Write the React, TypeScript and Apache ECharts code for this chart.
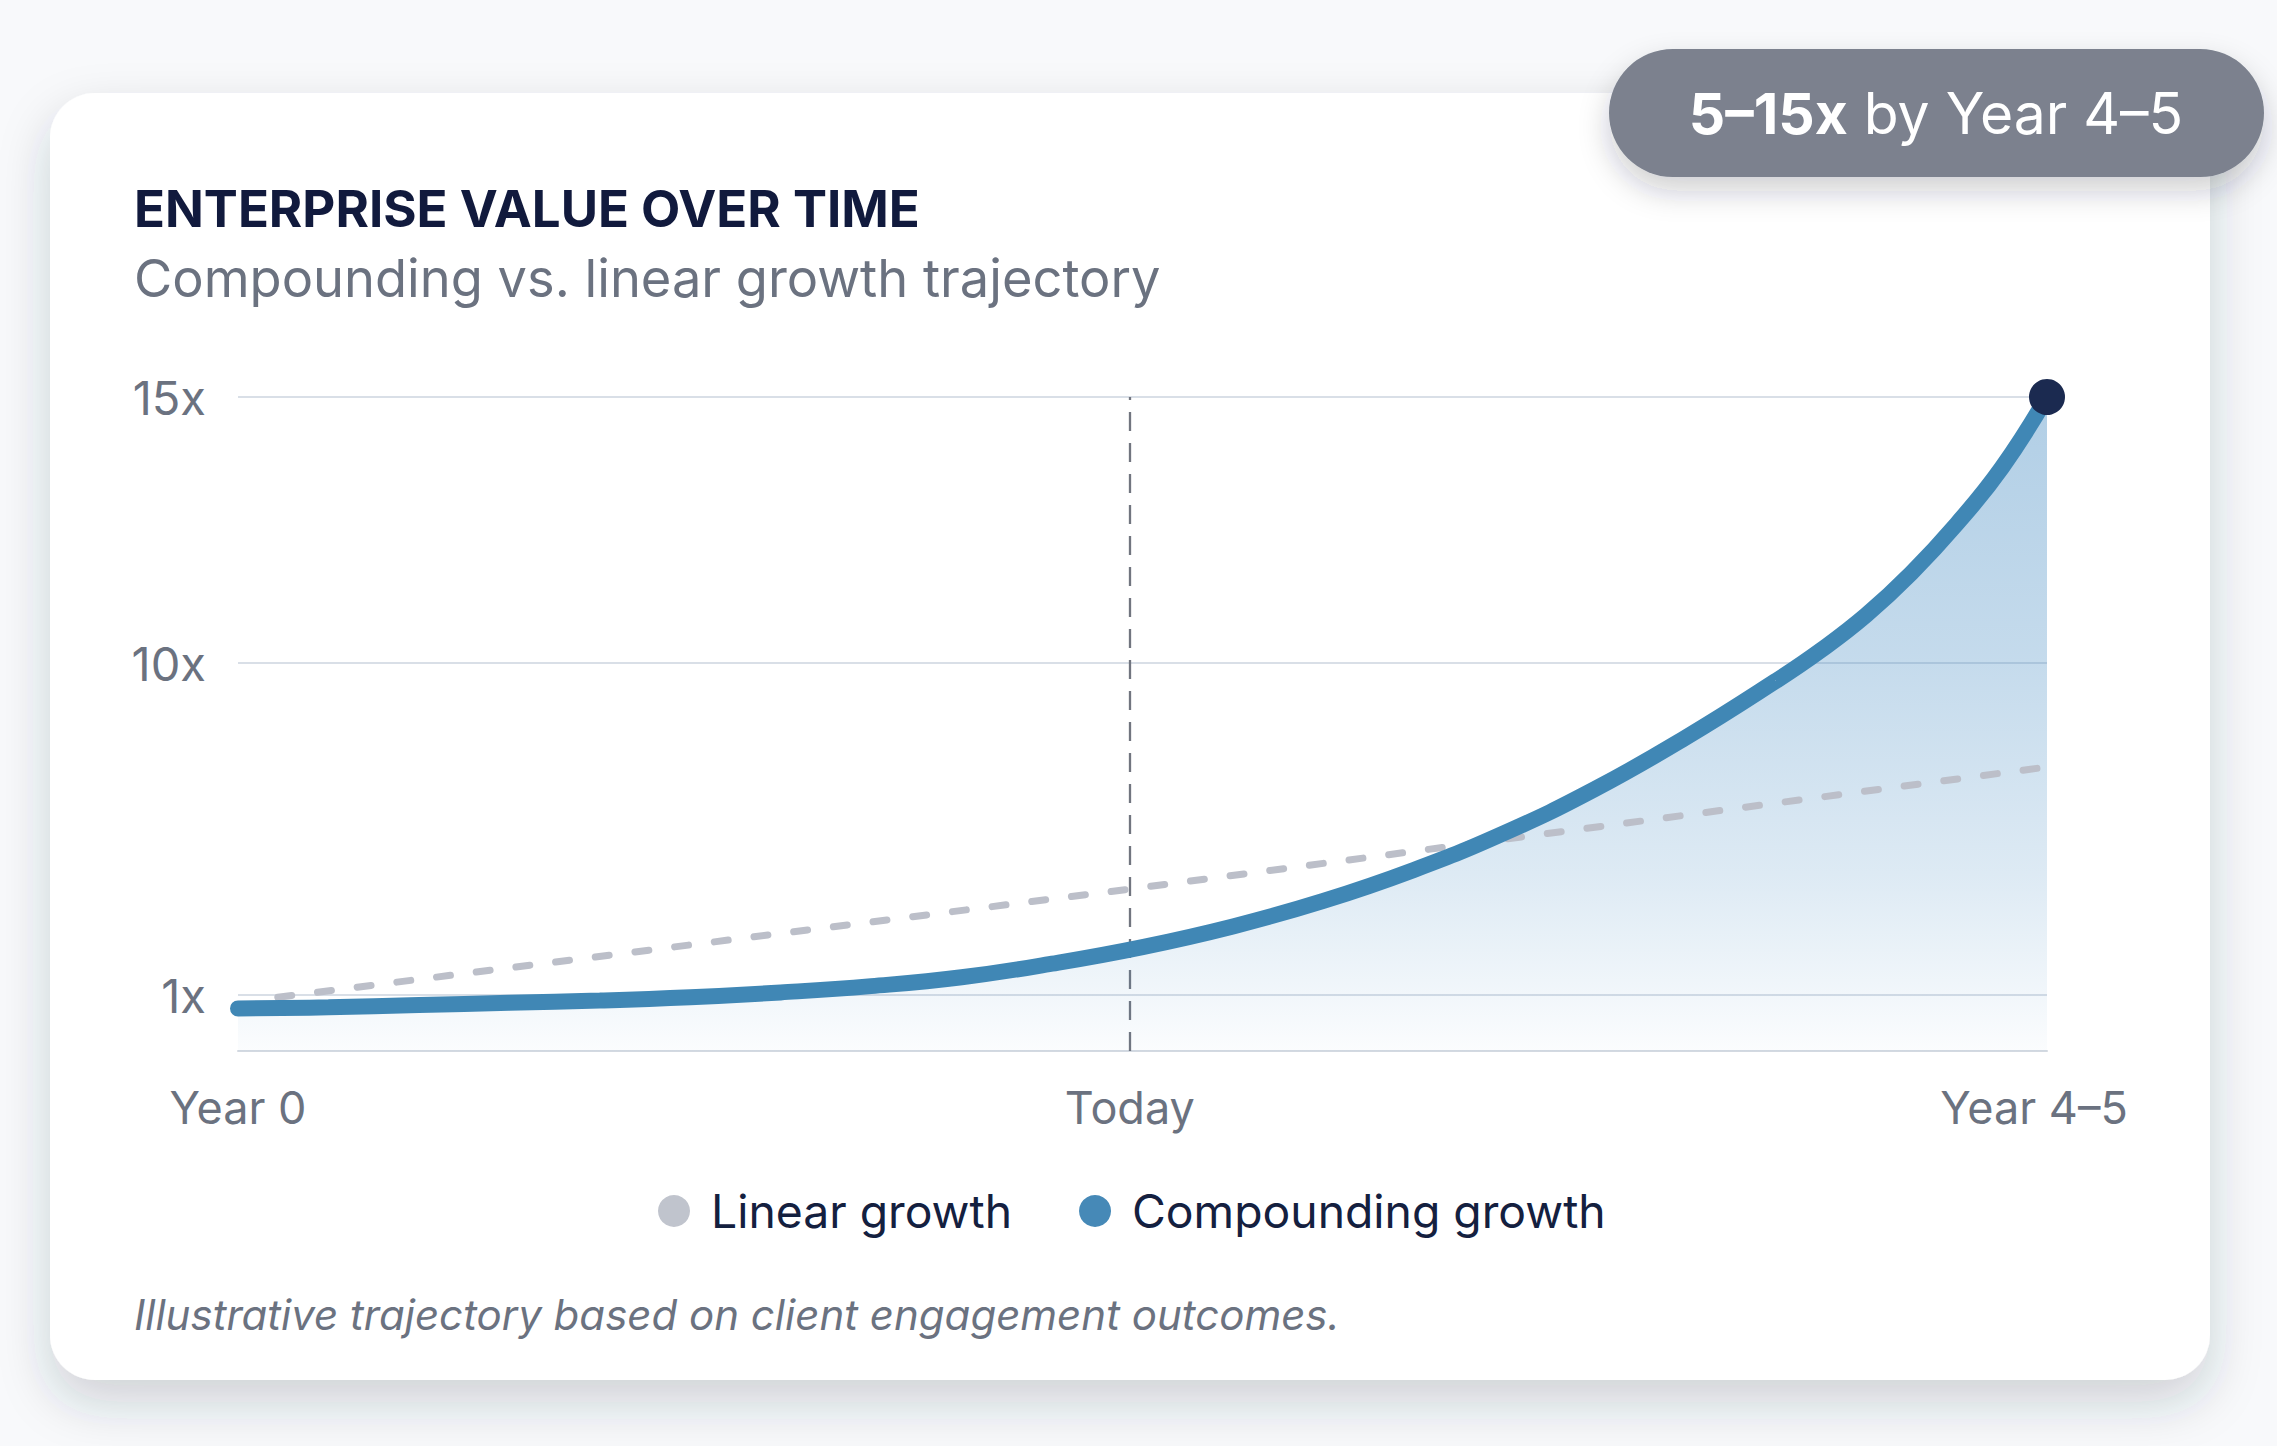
import React, { useEffect, useRef } from "react";
import * as echarts from "echarts";

// ---- data ----
const X_TICKS = [0, 4.93, 10];
const X_TICK_LABELS = ["Year 0", "Today", "Year 4–5"];
const Y_TICKS = [1, 10, 15];
const Y_TICK_LABELS = ["1x", "10x", "15x"];

// illustrative (non-linear) value scale: value breakpoints and their relative axis positions
const SCALE_VALUES = [0, 1, 10, 15];
const SCALE_POS = [0, 56, 388, 654];

const COMP_X = [0, 0.5, 1, 1.5, 2, 2.5, 3, 3.5, 4, 4.5, 5, 5.5, 6, 6.5, 7, 7.5, 8, 8.5, 8.75, 9, 9.25, 9.5, 9.75, 10];
const COMP_V = [
  0.76, 0.78, 0.82, 0.86, 0.9, 0.96, 1.07, 1.24, 1.48, 1.85, 2.3,
  2.86, 3.55, 4.39, 5.39, 6.58, 7.97, 9.51, 10.24, 10.9, 11.69, 12.61, 13.67, 15,
];

const LIN_X = [0.22, 4.93, 10];
const LIN_V = [0.96, 3.87, 7.18];

const TODAY_X = 4.93;

const FONT = "Inter, 'Noto Sans', sans-serif";

function toPos(v: number): number {
  for (let i = 1; i < SCALE_VALUES.length; i++) {
    if (v <= SCALE_VALUES[i] || i === SCALE_VALUES.length - 1) {
      const v0 = SCALE_VALUES[i - 1];
      const v1 = SCALE_VALUES[i];
      const p0 = SCALE_POS[i - 1];
      const p1 = SCALE_POS[i];
      return p0 + ((v - v0) / (v1 - v0)) * (p1 - p0);
    }
  }
  return 0;
}

export default function App() {
  const ref = useRef<HTMLDivElement>(null);

  useEffect(() => {
    if (!ref.current) return;
    const chart = echarts.init(ref.current, undefined, { renderer: "svg" });

    const compData = COMP_X.map((x, i) => [x, toPos(COMP_V[i])]);
    const linData = LIN_X.map((x, i) => [x, toPos(LIN_V[i])]);
    const endPoint = [[COMP_X[COMP_X.length - 1], toPos(COMP_V[COMP_V.length - 1])]];
    const yTickPos = Y_TICKS.map(toPos);

    const option: any = {
      animation: false,
      backgroundColor: "#f8f9fb",
      grid: { left: 238, right: 230, top: 397, bottom: 395, containLabel: false },
      xAxis: {
        type: "value",
        min: 0,
        max: 10,
        axisLine: { show: true, lineStyle: { color: "#d3d9e1", width: 2 } },
        axisTick: { show: false },
        splitLine: { show: false },
        axisLabel: {
          customValues: X_TICKS,
          margin: 34,
          color: "#6b7280",
          fontSize: 45,
          fontFamily: FONT,
          rich: {
            last: { fontSize: 45, fontFamily: FONT, color: "#6b7280", padding: [0, 26, 0, 0] },
          },
          formatter: (val: number) => {
            const i = X_TICKS.findIndex((t) => Math.abs(t - val) < 1e-6);
            if (i < 0) return "";
            return i === X_TICKS.length - 1 ? `{last|${X_TICK_LABELS[i]}}` : X_TICK_LABELS[i];
          },
        },
      },
      yAxis: {
        type: "value",
        min: 0,
        max: SCALE_POS[SCALE_POS.length - 1],
        axisLine: { show: false },
        axisTick: { show: false, customValues: yTickPos },
        splitLine: { show: false },
        axisLabel: {
          customValues: yTickPos,
          margin: 32,
          color: "#6b7280",
          fontSize: 47,
          fontFamily: FONT,
          formatter: (val: number) => {
            const i = yTickPos.findIndex((t) => Math.abs(t - val) < 1e-6);
            return i >= 0 ? Y_TICK_LABELS[i] : "";
          },
        },
      },
      legend: {
        left: 653,
        top: 1183,
        icon: "circle",
        itemWidth: 32,
        itemHeight: 32,
        itemGap: 67,
        textStyle: { fontSize: 46.3, color: "#14203f", fontFamily: FONT, padding: [0, 0, 0, 16] },
        data: [
          { name: "Linear growth", itemStyle: { color: "#c0c4cd" } },
          { name: "Compounding growth", itemStyle: { color: "#4689b7" } },
        ],
      },
      series: [
        {
          name: "area",
          type: "line",
          z: 2,
          data: compData,
          smooth: 0.45,
          showSymbol: false,
          lineStyle: { width: 0 },
          areaStyle: {
            origin: "start",
            color: new echarts.graphic.LinearGradient(0, 0, 0, 1, [
              { offset: 0, color: "rgba(70,140,195,0.6)" },
              { offset: 0.4, color: "rgba(70,140,195,0.45)" },
              { offset: 0.73, color: "rgba(70,140,195,0.26)" },
              { offset: 0.92, color: "rgba(70,140,195,0.1)" },
              { offset: 1, color: "rgba(70,140,195,0.03)" },
            ]),
          },
          markLine: {
            z: 1,
            silent: true,
            symbol: "none",
            label: { show: false },
            data: [
              ...yTickPos.map((p) => ({ yAxis: p, lineStyle: { color: "#d9dfe7", width: 2, type: "solid" } })),
              { xAxis: TODAY_X, lineStyle: { color: "#71757f", width: 2.3, type: [19, 12] } },
            ],
          },
        },
        {
          name: "Linear growth",
          type: "line",
          z: 3,
          data: linData,
          showSymbol: false,
          itemStyle: { color: "#c0c4cd" },
          lineStyle: { color: "#bcbfc9", width: 7, type: [14, 26], cap: "round" },
        },
        {
          name: "Compounding growth",
          type: "line",
          z: 4,
          data: compData,
          smooth: 0.45,
          showSymbol: false,
          itemStyle: { color: "#4689b7" },
          lineStyle: { color: "#4087b5", width: 16, cap: "round" },
        },
        {
          name: "end",
          type: "scatter",
          z: 5,
          data: endPoint,
          symbol: "circle",
          symbolSize: 36,
          itemStyle: { color: "#1b2a50", opacity: 1 },
        },
      ],
      graphic: [
        {
          type: "rect",
          z: 0,
          shape: { x: 50, y: 93, width: 2160, height: 1287, r: 45 },
          style: { fill: "#ffffff", shadowBlur: 50, shadowOffsetY: 22, shadowColor: "rgba(40,48,70,0.2)" },
        },
        {
          type: "text",
          z: 10,
          x: 134,
          y: 208,
          style: {
            text: "ENTERPRISE VALUE OVER TIME",
            fontFamily: FONT,
            fontSize: 51,
            fontWeight: "bold",
            fill: "#111a3d",
            align: "left",
            verticalAlign: "middle",
          },
        },
        {
          type: "text",
          z: 10,
          x: 134,
          y: 278,
          style: {
            text: "Compounding vs. linear growth trajectory",
            fontFamily: FONT,
            fontSize: 52.4,
            fill: "#6b7280",
            align: "left",
            verticalAlign: "middle",
          },
        },
        {
          type: "text",
          z: 10,
          x: 134,
          y: 1314,
          style: {
            text: "Illustrative trajectory based on client engagement outcomes.",
            fontFamily: FONT,
            fontSize: 42,
            fontStyle: "italic",
            fill: "#6b7280",
            align: "left",
            verticalAlign: "middle",
          },
        },
        {
          type: "rect",
          z: 20,
          shape: { x: 1609, y: 49, width: 655, height: 128, r: 64 },
          style: { fill: "#7b818e", shadowBlur: 30, shadowOffsetY: 14, shadowColor: "rgba(30,35,50,0.22)" },
        },
        {
          type: "text",
          z: 21,
          x: 1936,
          y: 113,
          style: {
            text: "{b|5–15x} by Year 4–5",
            rich: { b: { fontWeight: "bold", fontSize: 57, fontFamily: FONT, fill: "#ffffff" } },
            fontFamily: FONT,
            fontSize: 57,
            fill: "#ffffff",
            align: "center",
            verticalAlign: "middle",
          },
        },
      ],
    };

    chart.setOption(option);
    return () => chart.dispose();
  }, []);

  return (
    <div
      ref={ref}
      style={{ position: "absolute", left: 0, top: 0, width: 2277, height: 1446 }}
    />
  );
}
